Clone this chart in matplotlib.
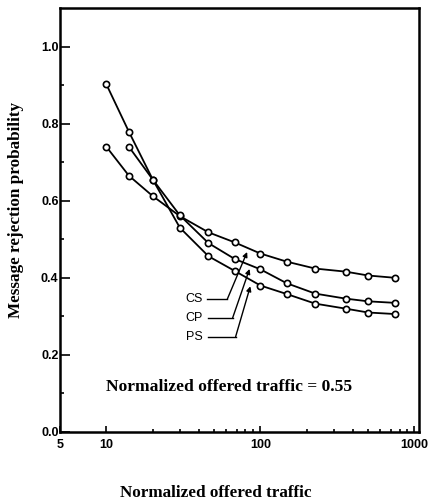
import matplotlib
matplotlib.use('Agg')
import matplotlib.pyplot as plt
from matplotlib.ticker import FixedLocator, NullFormatter

# data
traffic = [10, 14, 20, 30, 46, 68, 100, 148, 227, 358, 500, 750]
cs = [0.74, 0.665, 0.612, 0.56, 0.518, 0.492, 0.463, 0.442, 0.424, 0.416, 0.406, 0.40]
cp = [0.740, 0.655, 0.562, 0.49, 0.449, 0.422, 0.386, 0.359, 0.346, 0.339, 0.335]
ps = [0.902, 0.779, 0.655, 0.530, 0.456, 0.418, 0.380, 0.358, 0.333, 0.320, 0.310, 0.306]

labels = ['CS', 'CP', 'PS']
# leader lines: text x, line start x, corner, arrow tip
label_y = [0.345, 0.296, 0.247]
label_x = 37
start_x = [45, 46, 46]
corner_x = [61, 66, 69]
tip = [(82, 0.467), (85, 0.423), (86, 0.378)]

xticks = [5, 10, 100, 1000]
xticklabels = ['5', '10', '100', '1000']
yticks = [0.0, 0.2, 0.4, 0.6, 0.8, 1.0]

tick_font = {'family': 'Liberation Sans', 'weight': 'bold', 'size': 9}
serif = 'Liberation Serif'

fig = plt.figure(figsize=(4.32, 5.04), dpi=100)
ax = fig.add_axes([60 / 432, 1 - 432 / 504, 359 / 432, 424 / 504])

mk = dict(marker='o', markersize=4.5, markerfacecolor='white',
          markeredgecolor='black', markeredgewidth=1.2, color='black', lw=1.3)
ax.plot(traffic, cs, **mk)
ax.plot(traffic[1:], cp, **mk)
ax.plot(traffic, ps, **mk)

ax.set_xscale('log')
ax.set_xlim(5, 1070)
ax.set_ylim(0, 1.1)

ax.xaxis.set_major_locator(FixedLocator(xticks))
ax.set_xticklabels(xticklabels, fontdict=tick_font)
ax.xaxis.set_minor_locator(FixedLocator([20, 30, 40, 50, 60, 70, 80, 90,
                                         200, 300, 400, 500, 600, 700, 800, 900]))
ax.xaxis.set_minor_formatter(NullFormatter())
ax.set_yticks(yticks)
ax.set_yticklabels(['%.1f' % v for v in yticks], fontdict=tick_font)
ax.set_yticks([0.1, 0.3, 0.5, 0.7, 0.9], minor=True)

ax.tick_params(which='both', direction='in', width=1.2)
ax.tick_params(axis='y', which='major', length=7, pad=1)
ax.tick_params(axis='y', which='minor', length=3)
ax.tick_params(axis='x', which='major', length=4.5, pad=5)
ax.tick_params(axis='x', which='minor', length=2.5)
for s in ax.spines.values():
    s.set_linewidth(1.8)

# curve labels with leader arrows
for name, ly, sx, cx, t in zip(labels, label_y, start_x, corner_x, tip):
    ax.text(label_x, ly, name, ha='center', va='center',
            family='Liberation Sans', size=9)
    ax.plot([sx, cx], [ly, ly], color='black', lw=1)
    ax.annotate('', xy=t, xytext=(cx, ly),
                arrowprops=dict(arrowstyle='-|>', color='black', lw=1,
                                shrinkA=0, shrinkB=0, mutation_scale=7))

ax.text(9.9, 0.117, 'Normalized offered traffic = 0.55', ha='left', va='center',
        family=serif, weight='bold', size=12.6)

fig.text(216 / 432, 1 - 493 / 504, 'Normalized offered traffic', ha='center',
         va='center', family=serif, weight='bold', size=12.3)
fig.text(16 / 432, 1 - 210 / 504, 'Message rejection probability', ha='center',
         va='center', rotation=90, family=serif, weight='bold', size=12.3)

fig.savefig('out.png', dpi=100)
